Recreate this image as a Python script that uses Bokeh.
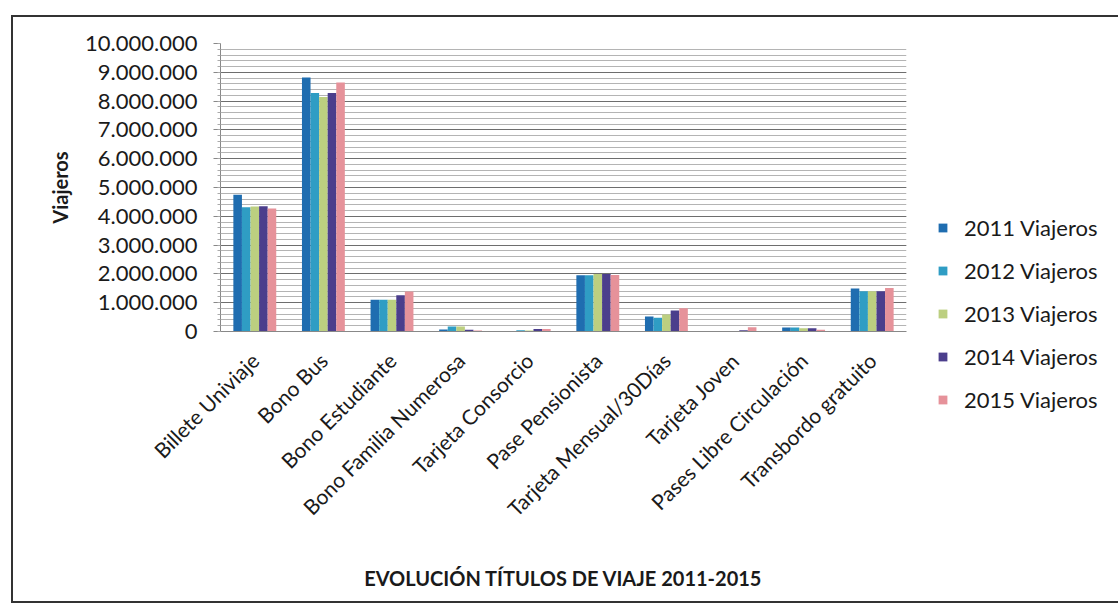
from bokeh.plotting import figure
from bokeh.models import (FactorRange, Range1d, ColumnDataSource, Legend, LegendItem,
                          SingleIntervalTicker)
from bokeh.transform import dodge
from bokeh.embed import file_html
from bokeh.resources import INLINE
import math

categories = ["Billete Univiaje", "Bono Bus", "Bono Estudiante", "Bono Familia Numerosa",
              "Tarjeta Consorcio", "Pase Pensionista", "Tarjeta Mensual/30Días",
              "Tarjeta Joven", "Pases Libre Circulación", "Transbordo gratuito"]
series_names = ["2011 Viajeros", "2012 Viajeros", "2013 Viajeros", "2014 Viajeros", "2015 Viajeros"]
v2011 = [4745000, 8820000, 1100000, 70000, 20000, 1950000, 520000, 0, 140000, 1490000]
v2012 = [4316000, 8280000, 1100000, 170000, 45000, 1950000, 480000, 0, 140000, 1400000]
v2013 = [4340000, 8140000, 1100000, 170000, 35000, 2000000, 590000, 0, 115000, 1400000]
v2014 = [4350000, 8280000, 1260000, 60000, 90000, 2000000, 730000, 46000, 115000, 1400000]
v2015 = [4270000, 8650000, 1390000, 35000, 90000, 1960000, 810000, 150000, 60000, 1510000]
colors = ["#1f6db0", "#2f9dc4", "#bccf80", "#4b3e8c", "#e6929a"]
y_ticks = [0, 1000000, 2000000, 3000000, 4000000, 5000000, 6000000, 7000000, 8000000, 9000000, 10000000]
y_tick_labels = ["0", "1.000.000", "2.000.000", "3.000.000", "4.000.000", "5.000.000",
                 "6.000.000", "7.000.000", "8.000.000", "9.000.000", "10.000.000"]
x_title = "EVOLUCIÓN TÍTULOS DE VIAJE 2011-2015"
y_title = "Viajeros"

FONT = "Lato"
series = [v2011, v2012, v2013, v2014, v2015]
keys = ["y2011", "y2012", "y2013", "y2014", "y2015"]
data = {"cat": categories}
for k, s in zip(keys, series):
    data[k] = s
source = ColumnDataSource(data)

p = figure(x_range=FactorRange(*categories), y_range=Range1d(0, 10000000),
           frame_width=686, frame_height=288, output_backend="svg", toolbar_location=None,
           min_border_left=207, min_border_top=26, min_border_right=200, min_border_bottom=270)
p.styles = {"margin-left": "11px", "margin-top": "15px",
            "border-left": "2px solid #333", "border-top": "2px solid #333",
            "border-bottom": "2px solid #333"}
p.x_range.range_padding = 0
p.outline_line_color = None
p.background_fill_color = "white"
p.border_fill_color = "white"

bw = 0.125
offsets = [-0.25, -0.125, 0.0, 0.125, 0.25]
renderers = []
for k, off, c in zip(keys, offsets, colors):
    r = p.vbar(x=dodge("cat", off, range=p.x_range), top=k, width=bw, source=source,
               fill_color=c, line_color=None)
    renderers.append(r)

legend = Legend(items=[LegendItem(label=n, renderers=[r]) for n, r in zip(series_names, renderers)],
                location="top_left")
legend.title = " "
legend.title_text_font_size = "10px"
legend.title_standoff = 129
legend.border_line_color = None
legend.background_fill_alpha = 0
legend.padding = 0
legend.margin = 31
legend.glyph_width = 11
legend.glyph_height = 11
legend.label_height = 24
legend.spacing = 16
legend.label_standoff = 16
legend.label_text_font = FONT
legend.label_text_font_size = "22px"
legend.label_text_color = "#1a1a1a"
p.add_layout(legend, "right")

# y axis
ticker = SingleIntervalTicker(interval=1000000, num_minor_ticks=5)
p.yaxis.ticker = ticker
p.yaxis.major_label_overrides = {t: l for t, l in zip(y_ticks, y_tick_labels)}
p.yaxis.major_label_text_font = FONT
p.yaxis.major_label_text_font_size = "22px"
p.yaxis.major_label_text_color = "#1a1a1a"
p.yaxis.major_label_standoff = 16
p.yaxis.major_tick_out = 7
p.yaxis.major_tick_in = 0
p.yaxis.minor_tick_out = 3
p.yaxis.minor_tick_in = 0
p.yaxis.axis_line_color = "#888888"
p.yaxis.major_tick_line_color = "#888888"
p.yaxis.minor_tick_line_color = "#aaaaaa"
p.yaxis.axis_label = y_title
p.yaxis.axis_label_text_font = FONT
p.yaxis.axis_label_text_font_style = "bold"
p.yaxis.axis_label_text_font_size = "20px"
p.yaxis.axis_label_text_color = "#1a1a1a"
p.yaxis.axis_label_standoff = 10

p.ygrid.ticker = ticker
p.ygrid.grid_line_color = "#6e6e6e"
p.ygrid.grid_line_width = 1
p.ygrid.minor_grid_line_color = "#b4b4b4"
p.ygrid.minor_grid_line_width = 1
p.xgrid.grid_line_color = None

# x axis
p.xaxis.major_label_orientation = math.pi / 4
p.xaxis.major_label_text_font = FONT
p.xaxis.major_label_text_font_size = "21px"
p.xaxis.major_label_text_color = "#1a1a1a"
p.xaxis.major_label_standoff = 19
p.xaxis.major_tick_line_color = None
p.xaxis.minor_tick_line_color = None
p.xaxis.axis_line_color = "#888888"
p.xaxis.group_text_font_size = "0px"
p.xaxis.axis_label = x_title
p.xaxis.axis_label_text_font = FONT
p.xaxis.axis_label_text_font_style = "bold"
p.xaxis.axis_label_text_font_size = "20px"
p.xaxis.axis_label_text_color = "#1a1a1a"
p.xaxis.axis_label_standoff = 33

open("out.html", "w").write(file_html(p, INLINE))
